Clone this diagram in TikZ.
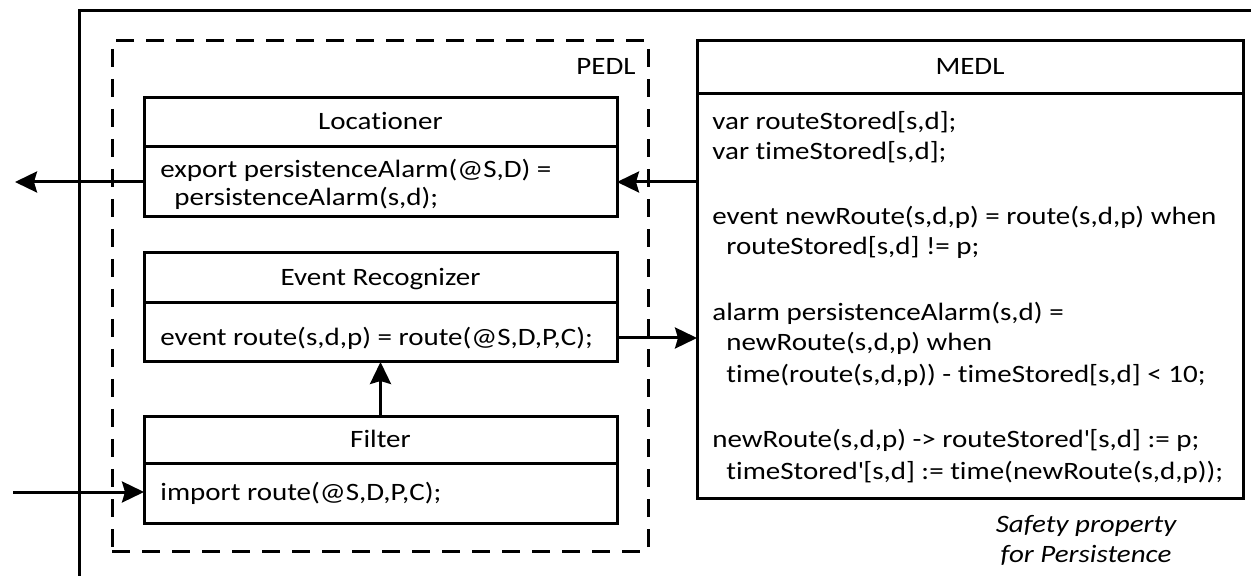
\documentclass[tikz,border=0pt]{standalone}
\usepackage{fontspec}
\setmainfont{Carlito}[FakeStretch=1.16, Ligatures=NoCommon]
\usetikzlibrary{arrows.meta}
\begin{document}
\begin{tikzpicture}[x=0.5pt,y=-0.5pt,
  lw/.style={line width=1.5pt},
  boxframe/.style={draw, lw, rectangle, inner sep=0pt, outer sep=0pt, anchor=north west},
  txt/.style={inner sep=0pt, font=\fontsize{12.5}{15}\selectfont},
  code/.style={txt, anchor=base west},
  title/.style={txt, anchor=base},
  arr/.style={lw, -{Stealth[length=11pt,width=10.5pt,inset=1.5pt]}}]
\useasboundingbox (0,0) rectangle (1251,576);

% outer frame (only its top and left edges lie in view)
\draw[lw] (79,590) -- (79,11) -- (1270,11);

% PEDL container
\node[boxframe, dashed, dash pattern=on 9pt off 6pt, minimum width=268pt, minimum height=255pt] (pedl) at (112,41) {};
\node[txt, anchor=base east] (pedlT) at (636,75) {PEDL};

% Locationer
\node[boxframe, minimum width=236.5pt, minimum height=59.5pt] (loc) at (144,98) {};
\coordinate (locdiv) at (0,147);
\draw[lw] (loc.west |- locdiv) -- (loc.east |- locdiv);
\node[title] (locT) at (380.5,130) {Locationer};
\node[code] (locB1) at (160,178) {export persistenceAlarm(@S,D) =};
\node[code] (locB2) at (174,206) {persistenceAlarm(s,d);};

% Event Recognizer
\node[boxframe, minimum width=236.5pt, minimum height=54.5pt] (ev) at (144,253) {};
\coordinate (evdiv) at (0,303);
\draw[lw] (ev.west |- evdiv) -- (ev.east |- evdiv);
\node[title] (evT) at (380.5,286) {Event Recognizer};
\node[code] (evB) at (160,346) {event route(s,d,p) = route(@S,D,P,C);};

% Filter
\node[boxframe, minimum width=236.5pt, minimum height=53pt] (filt) at (144,417) {};
\coordinate (filtdiv) at (0,463);
\draw[lw] (filt.west |- filtdiv) -- (filt.east |- filtdiv);
\node[title] (filtT) at (380.5,448) {Filter};
\node[code] (filtB) at (160,500) {import route(@S,D,P,C);};

% MEDL
\node[boxframe, minimum width=273pt, minimum height=228.5pt] (medl) at (697,41) {};
\coordinate (medldiv) at (0,94);
\draw[lw] (medl.west |- medldiv) -- (medl.east |- medldiv);
\node[title] (medlT) at (970,75) {MEDL};
\node[code] (m1) at (712,130) {var routeStored[s,d];};
\node[code] (m2) at (712,160) {var timeStored[s,d];};
\node[code] (m3) at (712,225) {event newRoute(s,d,p) = route(s,d,p) when};
\node[code] (m4) at (726,255) {routeStored[s,d] != p;};
\node[code] (m5) at (712,321) {alarm persistenceAlarm(s,d) =};
\node[code] (m6) at (726,351) {newRoute(s,d,p) when};
\node[code] (m7) at (726,383) {time(route(s,d,p)) - timeStored[s,d] < 10;};
\node[code] (m8) at (712,448) {newRoute(s,d,p) -> routeStored\textquotesingle[s,d] := p;};
\node[code] (m9) at (726,480) {timeStored\textquotesingle[s,d] := time(newRoute(s,d,p));};

\node[txt, font=\fontsize{12.5}{15}\selectfont\itshape, align=center] (safety) at (1086,540) {Safety property\\for Persistence};

% connectors
\coordinate (alarmY) at (0,182);
\coordinate (routeY) at (0,338);
\coordinate (importY) at (0,492);
\coordinate (outEnd) at (15,182);
\coordinate (inStart) at (13,492);
\draw[arr] (medl.west |- alarmY) -- (loc.east |- alarmY);
\draw[arr] (loc.west |- alarmY) -- (outEnd);
\draw[arr] (ev.east |- routeY) -- (medl.west |- routeY);
\draw[arr] (filt.north) -- (ev.south);
\draw[arr] (inStart) -- (filt.west |- importY);
\end{tikzpicture}
\end{document}
